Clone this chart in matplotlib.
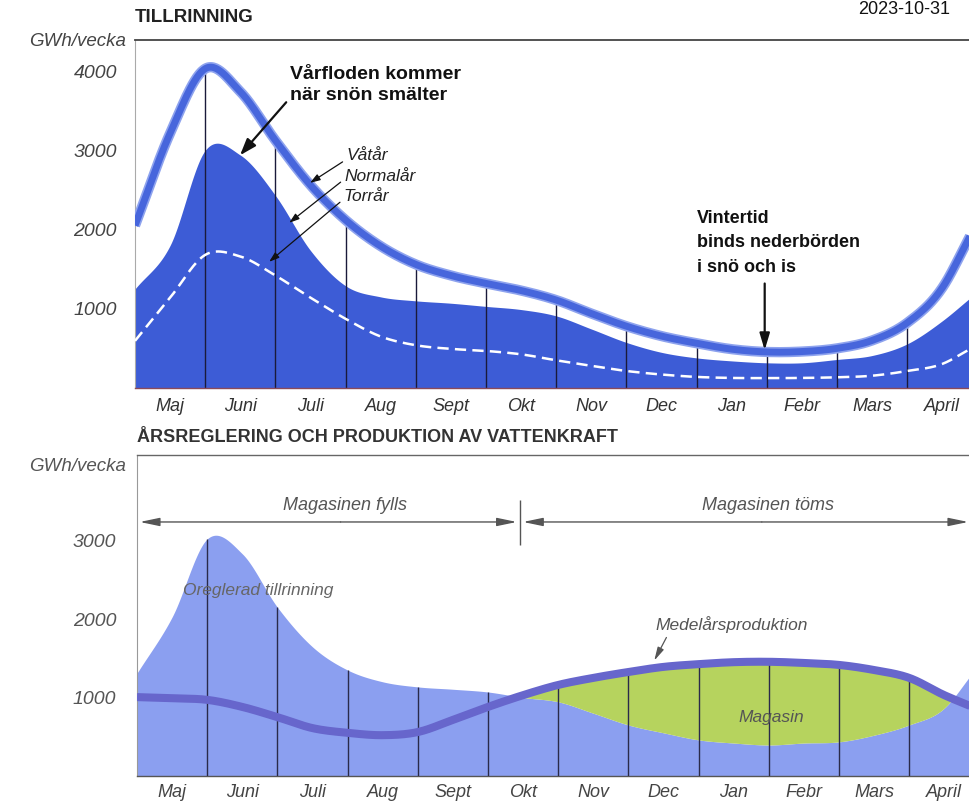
import numpy as np
import matplotlib
matplotlib.use("Agg")
import matplotlib.pyplot as plt

plt.rcParams['font.family'] = ['Liberation Sans', 'DejaVu Sans']

# ---------------- data ----------------
months = ["Maj", "Juni", "Juli", "Aug", "Sept", "Okt", "Nov", "Dec", "Jan", "Febr", "Mars", "April"]
# sample positions (months since start of May)
m = [0, 0.5, 1, 1.5, 2, 2.5, 3, 3.5, 4, 4.5, 5, 5.5, 6, 6.5, 7, 7.5, 8, 8.5, 9, 9.5, 10, 10.5, 11, 11.5, 11.9]

# Top panel: TILLRINNING (GWh/vecka)
vatar = [2050, 3215, 4030, 3740, 3125, 2560, 2120, 1790, 1560, 1420, 1320, 1230, 1110, 940, 780, 655, 565, 490, 455, 460, 500, 600, 823, 1265, 1925]
normalar = [1250, 1800, 3000, 2940, 2430, 1735, 1290, 1150, 1100, 1070, 1030, 990, 910, 745, 575, 450, 380, 342, 318, 318, 360, 410, 557, 848, 1140]
torrar = [595, 1140, 1680, 1660, 1420, 1140, 873, 650, 540, 494, 468, 425, 350, 280, 215, 170, 140, 127, 125, 127, 135, 155, 215, 304, 494]

# Bottom panel: ÅRSREGLERING
oreglerad = [1310, 2025, 3020, 2830, 2150, 1645, 1350, 1200, 1135, 1105, 1070, 1000, 945, 800, 650, 550, 460, 420, 395, 420, 435, 520, 650, 865, 1310]
produktion = [1005, 990, 970, 880, 750, 610, 550, 520, 560, 715, 880, 1030, 1160, 1250, 1325, 1390, 1425, 1450, 1455, 1440, 1415, 1350, 1250, 1030, 880]

top_yticks = [1000, 2000, 3000, 4000]
bot_yticks = [1000, 2000, 3000]


def smooth(x, y, n=30):
    """Cubic Hermite rendering of the read points."""
    x = np.asarray(x, float)
    y = np.asarray(y, float)
    d = np.gradient(y, x)
    xs, ys = [], []
    for i in range(len(x) - 1):
        h = x[i + 1] - x[i]
        t = np.linspace(0, 1, n, endpoint=False)
        h00 = 2 * t**3 - 3 * t**2 + 1
        h10 = t**3 - 2 * t**2 + t
        h01 = -2 * t**3 + 3 * t**2
        h11 = t**3 - t**2
        xs.append(x[i] + t * h)
        ys.append(h00 * y[i] + h10 * h * d[i] + h01 * y[i + 1] + h11 * h * d[i + 1])
    xs.append([x[-1]])
    ys.append([y[-1]])
    return np.concatenate(xs), np.concatenate(ys)


W, H = 970, 805
fig = plt.figure(figsize=(W / 100, H / 100), dpi=100)

PXM = 70.2  # px per month

# ---------------- top axes ----------------
axT = fig.add_axes([135 / W, 1 - 388 / H, 835 / W, 348 / H])
axT.set_xlim(0, 835 / PXM)
axT.set_ylim(0, (387 - 40) / 79 * 1000)

xw, yw = smooth(m, vatar)
xn, yn = smooth(m, normalar)
xd, yd = smooth(m, torrar)

axT.fill_between(xn, 0, yn, color='#3d5cd6', lw=0, zorder=1)
for k in range(1, 12):
    axT.vlines(k, 0, np.interp(k, xw, yw), color='#1a1a3a', lw=1.0, zorder=2)
axT.plot(xd, yd, color='white', lw=1.8, dashes=(4.5, 2.5), zorder=3)
axT.plot(xw, yw, color='#8ea3ee', lw=7.4, solid_capstyle='butt', zorder=4)
axT.plot(xw, yw, color='#4766dc', lw=5.0, solid_capstyle='butt', zorder=5)

axT.set_yticks(top_yticks)
axT.set_yticklabels([str(v) for v in top_yticks], fontsize=14, style='italic', color='#444')
axT.set_xticks(np.arange(12) + 0.5)
axT.set_xticklabels(months, fontsize=13, style='italic', color='#333')
axT.tick_params(axis='both', length=0)
axT.tick_params(axis='y', pad=13)
axT.tick_params(axis='x', pad=7)
axT.spines['right'].set_visible(False)
axT.spines['top'].set_color('#444')
axT.spines['top'].set_linewidth(1.3)
axT.spines['left'].set_color('#aaa')
axT.spines['left'].set_linewidth(0.8)
axT.spines['bottom'].set_color('#8a4a5a')
axT.spines['bottom'].set_linewidth(1.0)

fig.text(135 / W, 1 - 18 / H, "TILLRINNING", fontsize=13.5, fontweight='bold', color='#222', va='center', ha='left')
fig.text(126 / W, 1 - 42 / H, "GWh/vecka", fontsize=13.5, style='italic', color='#444', va='center', ha='right')
fig.text(950 / W, 1 - 1 / H, "2023-10-31", fontsize=13, color='#111', va='top', ha='right')

# annotations top
axT.text(2.21, 3962, "Vårfloden kommer", fontsize=14, fontweight='bold', color='#111', va='center')
axT.text(2.21, 3696, "när snön smälter", fontsize=14, fontweight='bold', color='#111', va='center')
axT.annotate("", xy=(1.47, 2911), xytext=(2.18, 3633),
             arrowprops=dict(arrowstyle='-|>,head_length=1.0,head_width=0.35', color='#111', lw=1.6), zorder=8)

axT.text(3.01, 2937, "Våtår", fontsize=12.5, style='italic', color='#222', va='center')
axT.text(2.99, 2671, "Normalår", fontsize=12.5, style='italic', color='#222', va='center')
axT.text(2.97, 2418, "Torrår", fontsize=12.5, style='italic', color='#222', va='center')
for (x0, y0, x1, y1) in [(2.99, 2873, 2.46, 2570), (2.96, 2620, 2.165, 2063), (2.95, 2367, 1.88, 1570)]:
    axT.annotate("", xy=(x1, y1), xytext=(x0, y0),
                 arrowprops=dict(arrowstyle='-|>,head_length=0.6,head_width=0.2', color='#111', lw=0.9), zorder=8)

axT.text(8.0, 2139, "Vintertid", fontsize=13, fontweight='bold', color='#111', va='center')
axT.text(8.0, 1835, "binds nederbörden", fontsize=13, fontweight='bold', color='#111', va='center')
axT.text(8.0, 1519, "i snö och is", fontsize=13, fontweight='bold', color='#111', va='center')
axT.annotate("", xy=(8.97, 443), xytext=(8.97, 1354),
             arrowprops=dict(arrowstyle='-|>,head_length=1.0,head_width=0.3', color='#111', lw=1.6), zorder=8)

# ---------------- bottom axes ----------------
axB = fig.add_axes([137 / W, 1 - 776 / H, 833 / W, 321 / H])
axB.set_xlim(0, 833 / PXM)
axB.set_ylim(0, (776 - 455) / 78.5 * 1000)

xi, yi = smooth(m, oreglerad)
xp, yp = smooth(m, produktion)

axB.fill_between(xi, 0, yi, color='#8b9ff0', lw=0, zorder=1)
axB.fill_between(xi, yi, yp, where=yp > yi, interpolate=True, color='#b6d35e', lw=0, zorder=2)
top = np.maximum(yi, yp)
for k in range(1, 12):
    axB.vlines(k, 0, np.interp(k, xi, top), color='#2a2a4a', lw=1.0, zorder=3)
axB.plot(xp, yp, color='#6766cc', lw=5.8, solid_capstyle='butt', zorder=4)

axB.set_yticks(bot_yticks)
axB.set_yticklabels([str(v) for v in bot_yticks], fontsize=14, style='italic', color='#555')
axB.set_xticks(np.arange(12) + 0.5)
axB.set_xticklabels(months, fontsize=13, style='italic', color='#444')
axB.tick_params(axis='both', length=0)
axB.tick_params(axis='y', pad=15)
axB.tick_params(axis='x', pad=6)
axB.spines['right'].set_visible(False)
axB.spines['top'].set_color('#666')
axB.spines['top'].set_linewidth(1.0)
axB.spines['left'].set_color('#999')
axB.spines['left'].set_linewidth(0.8)
axB.spines['bottom'].set_color('#555')
axB.spines['bottom'].set_linewidth(1.0)

fig.text(137 / W, 1 - 437 / H, "ÅRSREGLERING OCH PRODUKTION AV VATTENKRAFT", fontsize=13, fontweight='bold', color='#333', va='center', ha='left')
fig.text(126 / W, 1 - 466 / H, "GWh/vecka", fontsize=13.5, style='italic', color='#555', va='center', ha='right')

arr = dict(arrowstyle='-|>,head_length=1.2,head_width=0.25', color='#555', lw=1.0, shrinkA=0, shrinkB=0)
axB.annotate("", xy=(0.04, 3236), xytext=(2.9, 3236), arrowprops=arr)
axB.annotate("", xy=(5.41, 3236), xytext=(2.9, 3236), arrowprops=arr)
axB.vlines(5.46, 2943, 3516, color='#555', lw=1.0)
axB.annotate("", xy=(5.50, 3236), xytext=(8.9, 3236), arrowprops=arr)
axB.annotate("", xy=(11.84, 3236), xytext=(8.9, 3236), arrowprops=arr)
axB.text(2.96, 3452, "Magasinen fylls", fontsize=13, style='italic', color='#555', ha='center', va='center')
axB.text(8.99, 3452, "Magasinen töms", fontsize=13, style='italic', color='#555', ha='center', va='center')
axB.text(0.655, 2369, "Oreglerad tillrinning", fontsize=12.5, style='italic', color='#666', va='center', zorder=6)
axB.text(7.39, 1924, "Medelårsproduktion", fontsize=12.5, style='italic', color='#555', va='center')
axB.annotate("", xy=(7.35, 1439), xytext=(7.56, 1796),
             arrowprops=dict(arrowstyle='-|>,head_length=0.8,head_width=0.2', color='#555', lw=0.9))
axB.text(9.03, 739, "Magasin", fontsize=12.5, style='italic', color='#555', ha='center', va='center', zorder=6)

fig.savefig("out.png", dpi=100)
